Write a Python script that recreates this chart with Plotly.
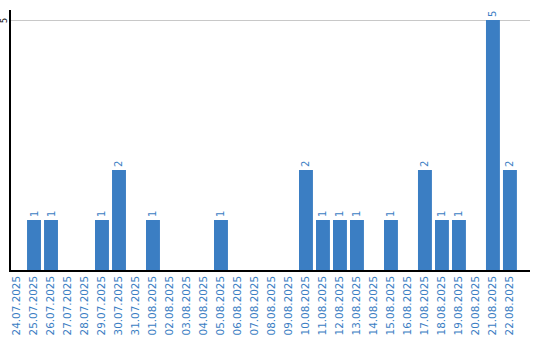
import plotly.graph_objects as go

dates = ["24.07.2025","25.07.2025","26.07.2025","27.07.2025","28.07.2025","29.07.2025",
         "30.07.2025","31.07.2025","01.08.2025","02.08.2025","03.08.2025","04.08.2025",
         "05.08.2025","06.08.2025","07.08.2025","08.08.2025","09.08.2025","10.08.2025",
         "11.08.2025","12.08.2025","13.08.2025","14.08.2025","15.08.2025","16.08.2025",
         "17.08.2025","18.08.2025","19.08.2025","20.08.2025","21.08.2025","22.08.2025"]
values = [0,1,1,0,0,1,2,0,1,0,0,0,1,0,0,0,0,2,1,1,1,0,1,0,2,1,1,0,5,2]
labels = [str(v) if v > 0 else "" for v in values]
y_tick = 5

blue = "#3b7ec3"
fig = go.Figure(go.Bar(
    x=dates, y=values, text=labels, textposition="outside", textangle=-90,
    textfont=dict(color=blue, size=10, family="DejaVu Sans"),
    marker=dict(color=blue, line=dict(width=0)), width=0.82, cliponaxis=False,
))
fig.update_layout(
    width=540, height=340, margin=dict(l=11, r=10, t=10, b=70),
    plot_bgcolor="white", paper_bgcolor="white", showlegend=False,
)
fig.update_xaxes(type="category", range=[-0.353, 30.18], tickangle=-90,
                 tickfont=dict(color=blue, size=10.4, family="DejaVu Sans"),
                 showline=True, linecolor="black", linewidth=1.5, showgrid=False,
                 ticks="", ticklen=0, automargin=False)
fig.update_yaxes(range=[0, 5.2], tickvals=[y_tick], showticklabels=False,
                 showline=True, linecolor="black", linewidth=1.5, showgrid=True,
                 gridcolor="#c8c8c8", gridwidth=1, zeroline=False, ticks="",
                 automargin=False)
fig.add_annotation(x=-0.0135, xref="paper", y=y_tick, yref="y", text=str(y_tick),
                   showarrow=False, textangle=-90, xanchor="center", yanchor="middle",
                   borderpad=0,
                   font=dict(color="black", size=8, family="DejaVu Sans"))
fig.write_html("out.html")
